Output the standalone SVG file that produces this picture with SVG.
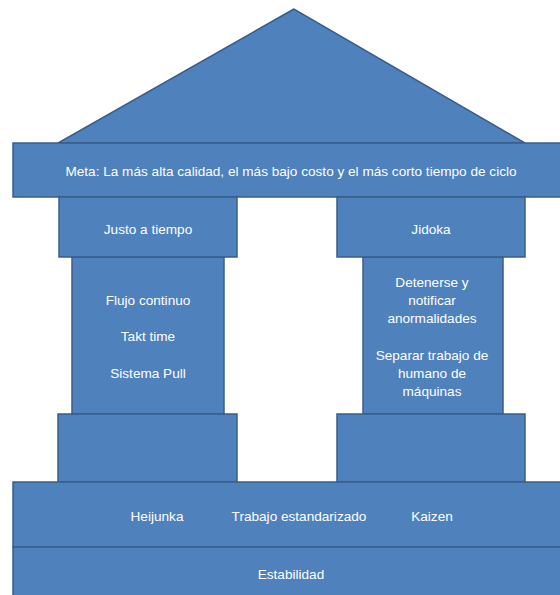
<svg xmlns="http://www.w3.org/2000/svg" width="560" height="595" viewBox="0 0 560 595">
<style>
.s{fill:#4F81BD;stroke:#385D8A;stroke-width:1.5}
text{font-family:"Liberation Sans",Arial,sans-serif;font-size:13.6px;fill:#FFFFFF;text-anchor:middle;dominant-baseline:central}
</style>
<rect width="560" height="595" fill="#FFFFFF"/>
<g id="roof"><polygon class="s" points="294,9 58,143 525,143"/></g>
<g id="meta"><rect class="s" x="13" y="143" width="549" height="54"/>
<text x="291" y="171">Meta: La más alta calidad, el más bajo costo y el más corto tiempo de ciclo</text></g>
<g id="left-shaft"><rect class="s" x="72" y="257" width="152" height="157"/>
<text x="148" y="300">Flujo continuo</text><text x="148" y="336">Takt time</text><text x="148" y="373">Sistema Pull</text></g>
<g id="left-capital"><rect class="s" x="59" y="197" width="178" height="60"/><text x="148" y="229">Justo a tiempo</text></g>
<g id="left-base"><rect class="s" x="58" y="414" width="179" height="68"/></g>
<g id="right-shaft"><rect class="s" x="363" y="257" width="140" height="157"/>
<text x="432" y="282">Detenerse y</text><text x="432" y="300">notificar</text><text x="432" y="318">anormalidades</text>
<text x="432" y="355">Separar trabajo de</text><text x="432" y="373">humano de</text><text x="432" y="391">máquinas</text></g>
<g id="right-capital"><rect class="s" x="337" y="197" width="188" height="60"/><text x="431" y="229">Jidoka</text></g>
<g id="right-base"><rect class="s" x="337" y="414" width="188" height="68"/></g>
<g id="foundation"><rect class="s" x="13" y="482" width="549" height="65"/>
<text x="157" y="516">Heijunka</text><text x="299" y="516">Trabajo estandarizado</text><text x="432" y="516">Kaizen</text></g>
<g id="estabilidad"><rect class="s" x="13" y="547" width="549" height="50"/><text x="291" y="574">Estabilidad</text></g>
<g id="connectors"/>
</svg>
